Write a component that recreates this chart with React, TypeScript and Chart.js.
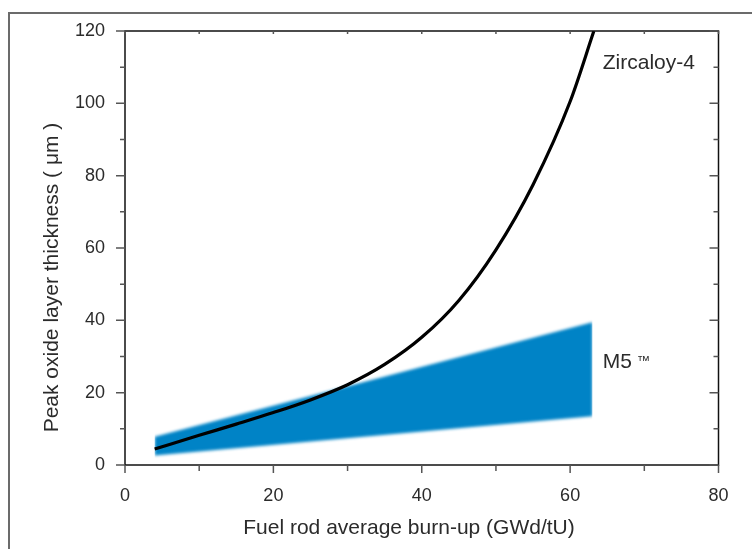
import React, { useEffect, useRef } from "react";
import { Chart, registerables } from "chart.js";

Chart.register(...registerables);

// ---- data ----
const burnup = [4, 10, 15, 20, 25, 30, 35, 40, 45, 50, 55, 60, 63.2];
const zircaloy = [4.4, 8.2, 11.3, 14.5, 18.0, 22.2, 27.8, 35.3, 45.5, 59.5, 77.5, 100.5, 120];

const m5Burnup = [4, 63];
const m5Lower = [2.6, 13.5];
const m5Upper = [7.8, 39.5];

const xTickValues = [0, 20, 40, 60, 80];
const yTickValues = [0, 20, 40, 60, 80, 100, 120];
const xMinorTicks = [10, 30, 50, 70];
const yMinorTicks = [10, 30, 50, 70, 90, 110];

const xTitle = "Fuel rod average burn-up (GWd/tU)";
const yTitle = "Peak oxide layer thickness ( μm )";
const zircLabel = { text: "Zircaloy-4", x: 64.4, y: 111 };
const m5Label = { text: "M5", mark: "™", x: 64.4, y: 26.8 };

const FONT = '"Liberation Sans", Arial, sans-serif';
const TEXT = "#2b2b2b";
const BAND = "#0083c6";

const decorPlugin = {
  id: "decor",
  beforeDatasetsDraw(chart: any) {
    chart.ctx.filter = "blur(1.6px)";
  },
  afterDatasetDraw(chart: any, args: any) {
    if (args.index === 1) chart.ctx.filter = "none";
  },
  afterDatasetsDraw(chart: any) {
    chart.ctx.filter = "none";
  },
  afterDraw(chart: any) {
    const { ctx, chartArea: a, scales } = chart;
    const xs = scales.x;
    const ys = scales.y;
    ctx.save();
    ctx.filter = "none";
    // outer frame
    ctx.strokeStyle = "#6b6b6b";
    ctx.lineWidth = 2;
    ctx.beginPath();
    ctx.moveTo(9, chart.height);
    ctx.lineTo(9, 13);
    ctx.lineTo(chart.width, 13);
    ctx.stroke();

    // axes box
    ctx.strokeStyle = "#111";
    ctx.lineWidth = 1.5;
    ctx.strokeRect(a.left, a.top, a.right - a.left, a.bottom - a.top);

    // ticks
    ctx.strokeStyle = "#555";
    ctx.lineWidth = 1.5;
    ctx.beginPath();
    for (const v of yTickValues) {
      const p = ys.getPixelForValue(v);
      ctx.moveTo(a.left - 9, p);
      ctx.lineTo(a.left, p);
      ctx.moveTo(a.right - 9, p);
      ctx.lineTo(a.right, p);
    }
    for (const v of yMinorTicks) {
      const p = ys.getPixelForValue(v);
      ctx.moveTo(a.left - 5, p);
      ctx.lineTo(a.left, p);
      ctx.moveTo(a.right - 5, p);
      ctx.lineTo(a.right, p);
    }
    for (const v of xTickValues) {
      const p = xs.getPixelForValue(v);
      ctx.moveTo(p, a.bottom);
      ctx.lineTo(p, a.bottom + 8);
      ctx.moveTo(p, a.top);
      ctx.lineTo(p, a.top + 3);
    }
    for (const v of xMinorTicks) {
      const p = xs.getPixelForValue(v);
      ctx.moveTo(p, a.bottom);
      ctx.lineTo(p, a.bottom + 6);
      ctx.moveTo(p, a.top);
      ctx.lineTo(p, a.top + 3);
    }
    ctx.stroke();

    // series labels
    ctx.fillStyle = TEXT;
    ctx.font = `21px ${FONT}`;
    ctx.textAlign = "left";
    ctx.textBaseline = "middle";
    ctx.fillText(zircLabel.text, xs.getPixelForValue(zircLabel.x), ys.getPixelForValue(zircLabel.y));
    ctx.textBaseline = "alphabetic";
    const mx = xs.getPixelForValue(m5Label.x);
    const my = ys.getPixelForValue(m5Label.y);
    ctx.fillText(m5Label.text, mx, my);
    const w = ctx.measureText(m5Label.text).width;
    ctx.font = `13px ${FONT}`;
    ctx.fillText(m5Label.mark, mx + w + 5, my - 3.5);

    // axis titles
    ctx.font = `21px ${FONT}`;
    ctx.textAlign = "center";
    ctx.textBaseline = "middle";
    ctx.fillText(xTitle, 409, 528);
    ctx.translate(52, 277.5);
    ctx.rotate(-Math.PI / 2);
    ctx.fillText(yTitle, 0, 0);
    ctx.restore();
  },
};

export default function App() {
  const ref = useRef<HTMLCanvasElement>(null);

  useEffect(() => {
    const canvas = ref.current;
    if (!canvas) return;
    const chart = new Chart(canvas, {
      type: "line",
      data: {
        datasets: [
          {
            label: "Zircaloy-4",
            data: burnup.map((b, i) => ({ x: b, y: zircaloy[i] })),
            borderColor: "#000",
            borderWidth: 3.2,
            pointRadius: 0,
            fill: false,
            cubicInterpolationMode: "monotone",
            borderCapStyle: "butt",
          },
          {
            label: "M5 lower",
            data: m5Burnup.map((b, i) => ({ x: b, y: m5Lower[i] })),
            borderColor: "rgba(0,0,0,0)",
            borderWidth: 0,
            pointRadius: 0,
            fill: false,
          },
          {
            label: "M5 upper",
            data: m5Burnup.map((b, i) => ({ x: b, y: m5Upper[i] })),
            borderColor: "rgba(0,0,0,0)",
            backgroundColor: BAND,
            borderWidth: 0,
            pointRadius: 0,
            fill: "-1",
          },
        ],
      } as any,
      options: {
        animation: false,
        responsive: false,
        devicePixelRatio: 1,
        events: [],
        layout: { padding: { top: 31, right: 33.5, bottom: 0, left: 0 } },
        plugins: {
          legend: { display: false },
          tooltip: { enabled: false },
        },
        scales: {
          x: {
            type: "linear",
            min: 0,
            max: 80,
            grid: { display: false },
            border: { display: false },
            ticks: {
              stepSize: 20,
              padding: 12,
              color: TEXT,
              font: { family: FONT, size: 18 },
              maxRotation: 0,
            },
            title: { display: false, text: xTitle },
            afterFit: (s: any) => {
              s.height = 84;
            },
          },
          y: {
            type: "linear",
            min: 0,
            max: 120,
            grid: { display: false },
            border: { display: false },
            ticks: {
              stepSize: 20,
              padding: 12,
              color: TEXT,
              font: { family: FONT, size: 18 },
            },
            title: { display: false, text: yTitle },
            afterFit: (s: any) => {
              s.width = 125;
            },
          },
        },
      } as any,
      plugins: [decorPlugin as any],
    });
    return () => chart.destroy();
  }, []);

  return (
    <div style={{ position: "absolute", left: 0, top: 0, width: 752, height: 549, background: "#fff" }}>
      <canvas ref={ref} width={752} height={549} style={{ display: "block" }} />
    </div>
  );
}
